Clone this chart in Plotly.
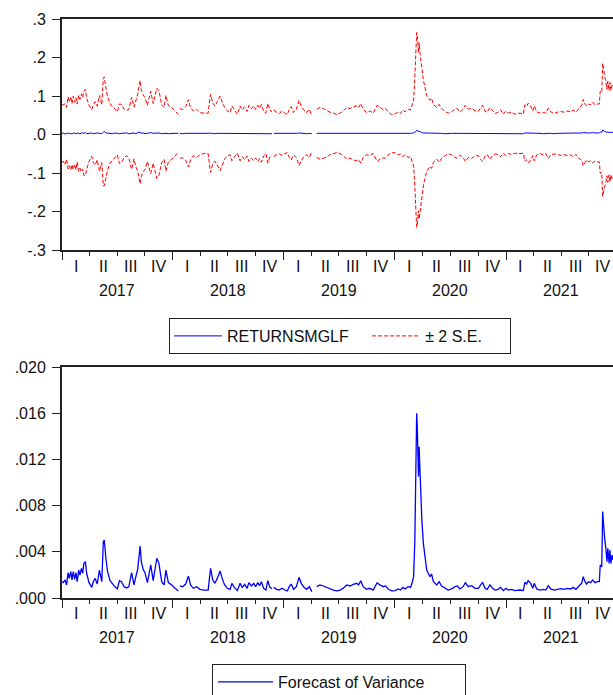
import numpy as np
import pandas as pd
import plotly.graph_objects as go

# ---------------- data ----------------
# days since 2017-01-01
day_index = [
    0, 4, 10, 15, 20, 24, 29, 33, 37, 42,
    46, 50, 55, 59, 64, 68, 72, 77, 81, 89,
    98, 103, 109, 116, 123, 131, 136, 139, 145, 150,
    158, 166, 174, 182, 189, 196, 204, 213, 220, 229,
    237, 243, 249, 257, 261, 267, 273, 281, 292, 300,
    312, 319, 328, 336, 342, 350, 361, 372, 383, 385,
    388, 397, 407, 416, 423, 432, 443, 454, 467, 481,
    487, 489, 496, 503, 511, 520, 527, 535, 544, 553,
    559, 567, 577, 586, 593, 601, 609, 615, 623, 631,
    637, 644, 650, 656, 664, 671, 677, 684, 691, 694,
    697, 706, 715, 724, 733, 741, 748, 754, 762, 771,
    780, 787, 796, 805, 814, 822, 830, 838, 849, 860,
    871, 882, 893, 904, 915, 925, 937, 948, 958, 970,
    976, 983, 991, 1002, 1013, 1024, 1037, 1046, 1057, 1065,
    1074, 1085, 1096, 1106, 1114, 1121, 1129, 1139, 1147, 1153,
    1157, 1161, 1165, 1167, 1169, 1171, 1173, 1175, 1178, 1181,
    1184, 1189, 1194, 1200, 1205, 1211, 1216, 1222, 1233, 1241,
    1249, 1260, 1271, 1282, 1293, 1301, 1309, 1320, 1327, 1337,
    1348, 1359, 1370, 1381, 1384, 1392, 1399, 1408, 1417, 1425,
    1435, 1443, 1452, 1461, 1468, 1480, 1490, 1507, 1518, 1523,
    1529, 1534, 1542, 1549, 1554, 1562, 1573, 1584, 1592, 1600,
    1608, 1619, 1630, 1641, 1652, 1662, 1674, 1682, 1691, 1699,
    1704, 1710, 1715, 1721, 1726, 1732, 1739, 1746, 1754, 1761,
    1768, 1771, 1776, 1779, 1781, 1785, 1790, 1793, 1796, 1800,
    1803, 1806, 1810, 1813,
]

# forecast of variance
variance = [
    .00141, .00133, .00156, .00113, .00219, .00171, .00228, .00156, .00228, .00162,
    .00219, .00141, .00242, .00199, .00257, .00214, .00300, .00315, .00214, .00133,
    .00092, .00141, .00170, .00121, .00242, .00141, .00488, .00502, .00329, .00228,
    .00150, .00121, .00098, .00078, .00150, .00141, .00098, .00087, .00098, .00219,
    .00113, .00185, .00248, .00450, .00315, .00248, .00219, .00133, .00286, .00150,
    .00344, .00300, .00141, .00113, .00242, .00133, .00113, .00084, .00061, None,
    .00104, .00098, .00121, .00190, .00113, .00084, .00098, .00075, .00069, .00069,
    .00214, .00257, .00156, .00127, .00170, .00234, .00170, .00113, .00084, .00075,
    .00127, .00092, .00064, .00127, .00092, .00118, .00084, .00133, .00104, .00127,
    .00098, .00133, .00107, .00141, .00081, .00069, .00150, .00092, .00081, None,
    .00092, .00075, .00069, .00084, .00069, .00061, .00098, .00121, .00075, .00098,
    .00179, .00127, .00092, .00075, .00098, .00055, None, .00098, .00113, .00104,
    .00092, .00075, .00069, .00061, .00069, .00084, .00113, .00104, .00118, .00127,
    .00113, .00150, .00098, .00075, .00084, .00069, .00133, .00113, .00098, .00104,
    .00075, .00061, .00064, .00078, .00069, .00092, .00078, .00098, .00092, .00141,
    .00185, .00502, .01224, .01599, .01484, .01340, .01051, .01310, .01051, .00849,
    .00675, .00473, .00358, .00242, .00214, .00185, .00208, .00141, .00113, .00141,
    .00104, .00084, .00069, .00078, .00098, .00104, .00078, .00098, .00133, .00098,
    .00107, .00084, .00084, .00127, .00133, .00084, .00075, .00113, .00084, .00069,
    .00075, .00092, .00064, .00084, .00069, .00075, .00064, .00069, .00064, .00136,
    .00121, .00150, .00127, .00084, .00127, .00078, .00069, .00075, .00069, .00107,
    .00078, .00069, .00075, .00081, .00075, .00084, .00078, .00092, .00075, .00104,
    .00113, .00127, .00185, .00141, .00121, .00141, .00133, .00156, .00133, .00141,
    .00141, .00286, .00271, .00748, .00647, .00531, .00416, .00315, .00430, .00300,
    .00416, .00300, .00372, .00329,
]

# forecast of RETURNSMGLF (mean)
returns_fc = [
    .002, .004, .001, .003, .004, .002, .003, .001, .004, .003,
    .002, .004, .003, .002, .004, .003, .003, .005, .002, .003,
    .004, .002, .003, .004, .003, .002, .006, .008, .004, .003,
    .003, .002, .004, .003, .002, .003, .003, .004, .002, .003,
    .004, .002, .005, .006, .003, .004, .002, .003, .005, .003,
    .003, .004, .002, .003, .003, .002, .003, .003, .003, None,
    .003, .002, .003, .003, .002, .003, .003, .002, .003, .003,
    .004, .003, .003, .002, .003, .003, .002, .003, .003, .002,
    .003, .003, .002, .003, .003, .003, .002, .003, .003, .003,
    .002, .003, .003, .003, .002, .003, .003, .003, .002, None,
    .003, .003, .002, .003, .003, .002, .003, .003, .002, .003,
    .004, .003, .003, .002, .003, .002, None, .003, .003, .003,
    .002, .003, .003, .002, .003, .003, .003, .003, .003, .003,
    .002, .003, .003, .002, .003, .003, .003, .003, .002, .003,
    .003, .002, .003, .003, .002, .003, .003, .003, .003, .004,
    .004, .006, .009, .012, .011, .010, .007, .009, .007, .006,
    .005, .004, .004, .003, .003, .003, .003, .003, .003, .003,
    .003, .002, .003, .003, .003, .003, .002, .003, .003, .003,
    .003, .003, .003, .003, .003, .002, .003, .003, .003, .002,
    .003, .003, .002, .003, .003, .003, .002, .003, .002, .004,
    .004, .004, .003, .003, .003, .003, .003, .002, .003, .003,
    .003, .002, .003, .003, .003, .003, .003, .003, .003, .003,
    .004, .004, .005, .004, .004, .004, .004, .005, .004, .004,
    .004, .006, .006, .012, .010, .008, .007, .005, .007, .005,
    .006, .005, .006, .005,
]

years = [2017, 2018, 2019, 2020, 2021]
quarter_labels = ["I", "II", "III", "IV"]
top_ticks = [-0.3, -0.2, -0.1, 0.0, 0.1, 0.2, 0.3]
top_ticktext = ["-.3", "-.2", "-.1", ".0", ".1", ".2", ".3"]
bot_ticks = [0.0, 0.004, 0.008, 0.012, 0.016, 0.020]
bot_ticktext = [".000", ".004", ".008", ".012", ".016", ".020"]

assert len(day_index) == len(variance) == len(returns_fc)

# ---------------- derived ----------------
start = pd.Timestamp("2017-01-01")
dates = start + pd.to_timedelta(day_index, unit="D")
var_arr = np.array([np.nan if v is None else v for v in variance], dtype=float)
mu_arr = np.array([np.nan if v is None else v for v in returns_fc], dtype=float)
upper = mu_arr + 2 * np.sqrt(var_arr)
lower = mu_arr - 2 * np.sqrt(var_arr)

x_range = ["2017-01-01", "2021-12-19"]

q_mid, q_txt, y_mid, y_txt = [], [], [], []
for yr in years:
    for qi, ql in enumerate(quarter_labels):
        a = pd.Timestamp(yr, 3 * qi + 1, 1)
        b = a + pd.DateOffset(months=3)
        q_mid.append(a + (b - a) / 2)
        q_txt.append(ql)
    a = pd.Timestamp(yr, 1, 1)
    b = pd.Timestamp(yr + 1, 1, 1)
    y_mid.append(a + (b - a) / 2)
    y_txt.append(str(yr))

FONT = "Liberation Sans"
FS = 16
BLUE = "#0000FF"
RED = "#FF0000"
TXT = "#111111"
W, H = 613, 695
NB = "\u00a0"

fig = go.Figure()
fig.add_trace(go.Scatter(x=dates, y=mu_arr, mode="lines", name="RETURNSMGLF" + NB * 3,
                         line=dict(color=BLUE, width=1), xaxis="x", yaxis="y",
                         legend="legend"))
fig.add_trace(go.Scatter(x=dates, y=upper, mode="lines", name="± 2 S.E." + NB * 5,
                         line=dict(color=RED, width=1, dash="4px,2px"),
                         xaxis="x", yaxis="y", legendgroup="se", legend="legend"))
fig.add_trace(go.Scatter(x=dates, y=lower, mode="lines", name="± 2 S.E.",
                         line=dict(color=RED, width=1, dash="4px,2px"),
                         xaxis="x", yaxis="y", legendgroup="se", showlegend=False))
fig.add_trace(go.Scatter(x=dates, y=var_arr, mode="lines",
                         name="Forecast of Variance" + NB * 8,
                         line=dict(color=BLUE, width=1.3), xaxis="x2", yaxis="y2",
                         legend="legend2"))

xdom = [62 / W, 1.0]
ytop = [1 - 250 / H, 1 - 19 / H]
ybot = [1 - 598 / H, 1 - 367 / H]

def data_x(anchor):
    return dict(domain=xdom, anchor=anchor, type="date", range=x_range,
                showline=True, linecolor="#222", linewidth=2, mirror=True,
                ticks="outside", tick0="2017-01-01", dtick="M12", ticklen=8,
                tickcolor="#222", tickwidth=1, showticklabels=False,
                showgrid=False, zeroline=False,
                minor=dict(ticks="outside", tick0="2017-01-01", dtick="M3",
                           ticklen=4, tickcolor="#222", tickwidth=1, showgrid=False))

def yax(dom, rng, vals, txt, anchor):
    return dict(domain=dom, anchor=anchor, range=rng, tickmode="array",
                tickvals=vals, ticktext=txt, ticks="outside", ticklen=8,
                tickcolor="#222", tickwidth=1, showline=True, linecolor="#222",
                linewidth=2, mirror=False, showgrid=False, zeroline=False,
                tickfont=dict(family=FONT, size=FS, color=TXT),
                ticklabelstandoff=3)

annotations = []
for xref, qy, yy in (("x", 266, 290), ("x2", 613, 637)):
    for xv, t in zip(q_mid, q_txt):
        annotations.append(dict(x=xv, xref=xref, y=1 - qy / H, yref="paper",
                                text=t, showarrow=False, xanchor="center",
                                yanchor="middle",
                                font=dict(family=FONT, size=FS, color=TXT)))
    for xv, t in zip(y_mid, y_txt):
        annotations.append(dict(x=xv, xref=xref, y=1 - yy / H, yref="paper",
                                text=t, showarrow=False, xanchor="center",
                                yanchor="middle",
                                font=dict(family=FONT, size=FS, color=TXT)))

leg_common = dict(xanchor="left", yanchor="top", orientation="h",
                  bordercolor="#222", borderwidth=1, bgcolor="white",
                  font=dict(family=FONT, size=FS, color=TXT))

fig.update_layout(
    width=W, height=H,
    margin=dict(l=0, r=0, t=0, b=0, autoexpand=False),
    template="none",
    paper_bgcolor="white", plot_bgcolor="white",
    font=dict(family=FONT, size=FS, color=TXT),
    xaxis=data_x("y"),
    xaxis2=data_x("y2"),
    yaxis=yax(ytop, [-0.3, 0.3], top_ticks, top_ticktext, "x"),
    yaxis2=yax(ybot, [0, 0.020], bot_ticks, bot_ticktext, "x2"),
    legend=dict(x=169 / W, y=1 - 318 / H, itemwidth=48, **leg_common),
    legend2=dict(x=212 / W, y=1 - 664 / H, itemwidth=55, **leg_common),
    annotations=annotations,
    showlegend=True,
)

fig.write_html("out.html")
